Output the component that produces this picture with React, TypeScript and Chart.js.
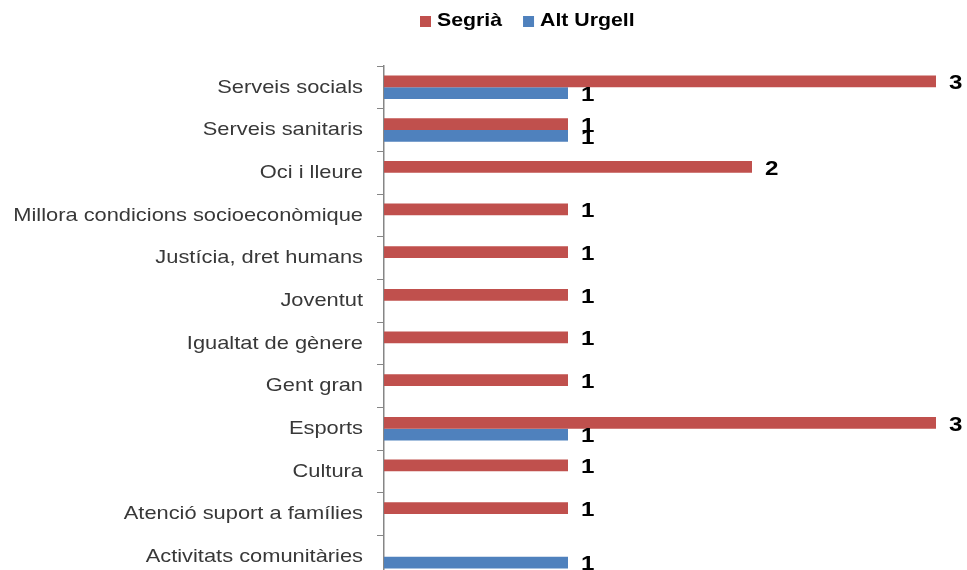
import React, { useEffect, useRef } from "react";
import { Chart, registerables } from "chart.js";

Chart.register(...registerables);

const categories = [
  "Serveis socials",
  "Serveis sanitaris",
  "Oci i lleure",
  "Millora condicions socioeconòmique",
  "Justícia, dret humans",
  "Joventut",
  "Igualtat de gènere",
  "Gent gran",
  "Esports",
  "Cultura",
  "Atenció suport a famílies",
  "Activitats comunitàries",
];
const segria = [3, 1, 2, 1, 1, 1, 1, 1, 3, 1, 1, 0];
const altUrgell = [1, 1, 0, 0, 0, 0, 0, 0, 1, 0, 0, 1];
const seriesNames = ["Segrià", "Alt Urgell"];
const seriesColors = ["#C0504D", "#4F81BD"];

const FONT = '"Liberation Sans", Arial, sans-serif';
const SX = 1.15;

const customDraw = {
  id: "customDraw",
  afterDraw(chart: any) {
    const ctx = chart.ctx;
    const yScale = chart.scales.y;
    ctx.save();
    // category labels
    ctx.fillStyle = "#383838";
    ctx.font = `19px ${FONT}`;
    ctx.textAlign = "right";
    ctx.textBaseline = "middle";
    categories.forEach((lab, i) => {
      const y = yScale.getPixelForValue(i);
      ctx.save();
      ctx.translate(chart.chartArea.left - 21, y);
      ctx.scale(SX, 1);
      ctx.fillText(lab, 0, 0);
      ctx.restore();
    });
    // data labels
    ctx.fillStyle = "#000000";
    ctx.font = `bold 21px ${FONT}`;
    ctx.textAlign = "left";
    chart.data.datasets.forEach((ds: any, di: number) => {
      const meta = chart.getDatasetMeta(di);
      meta.data.forEach((el: any, i: number) => {
        const v = ds.data[i];
        if (!v) return;
        ctx.save();
        ctx.translate(el.x + 13, el.y + 2);
        ctx.scale(SX, 1);
        ctx.fillText(String(v), 0, 0);
        ctx.restore();
      });
    });
    // legend
    ctx.font = `bold 18.5px ${FONT}`;
    ctx.textBaseline = "middle";
    let x = 420;
    const ly = 21;
    seriesNames.forEach((name, i) => {
      ctx.fillStyle = seriesColors[i];
      ctx.fillRect(x, ly - 5, 11, 11);
      x += 17;
      ctx.fillStyle = "#000000";
      ctx.save();
      ctx.translate(x, ly);
      ctx.scale(SX, 1);
      ctx.fillText(name, 0, 0);
      ctx.restore();
      x += ctx.measureText(name).width * SX + 21;
    });
    ctx.restore();
  },
};

export default function App() {
  const ref = useRef<HTMLCanvasElement>(null);
  useEffect(() => {
    if (!ref.current) return;
    const chart = new Chart(ref.current, {
      type: "bar",
      data: {
        labels: categories,
        datasets: [
          {
            label: seriesNames[0],
            data: segria,
            backgroundColor: seriesColors[0],
            borderWidth: 0,
          },
          {
            label: seriesNames[1],
            data: altUrgell,
            backgroundColor: seriesColors[1],
            borderWidth: 0,
          },
        ],
      },
      options: {
        indexAxis: "y",
        responsive: false,
        animation: false,
        layout: { padding: { top: 66, right: 31, bottom: 2, left: 0 } },
        datasets: {
          bar: { categoryPercentage: 0.55, barPercentage: 1 },
        },
        plugins: {
          legend: { display: false },
          tooltip: { enabled: false },
        },
        scales: {
          x: { display: false, min: 0, max: 3 },
          y: {
            grid: {
              drawOnChartArea: false,
              drawTicks: true,
              tickLength: 7,
              color: "#868686",
              offset: true,
            },
            border: { color: "#868686", width: 1.5 },
            ticks: { display: false },
            afterFit: (s: any) => {
              s.width = 384;
            },
          },
        },
      },
      plugins: [customDraw],
    });
    return () => chart.destroy();
  }, []);
  return (
    <div
      style={{
        position: "fixed",
        left: 0,
        top: 0,
        width: 967,
        height: 570,
        overflow: "hidden",
        background: "#fff",
      }}
    >
      <canvas ref={ref} width={967} height={580} style={{ display: "block" }} />
    </div>
  );
}
